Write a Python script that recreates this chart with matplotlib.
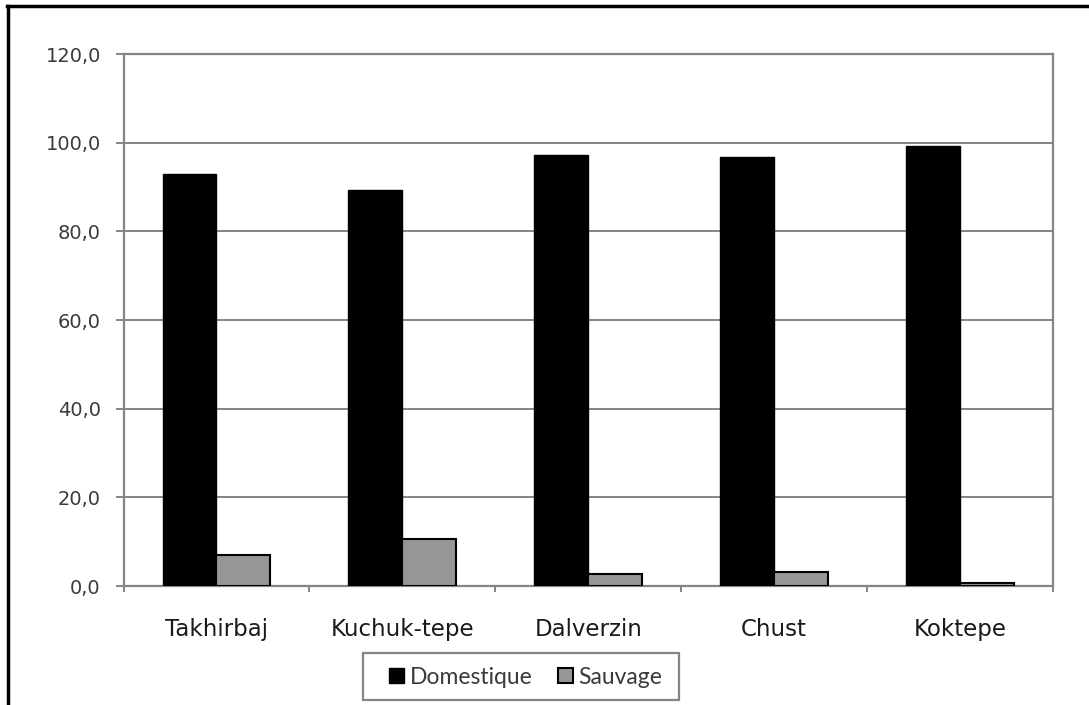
import matplotlib
matplotlib.use("Agg")
import matplotlib.pyplot as plt
import numpy as np
from matplotlib.lines import Line2D
from matplotlib.patches import Rectangle

categories = ["Takhirbaj", "Kuchuk-tepe", "Dalverzin", "Chust", "Koktepe"]
domestique = [93.0, 89.4, 97.3, 96.8, 99.3]
sauvage = [7.0, 10.6, 2.7, 3.2, 0.7]
yticks = [0, 20, 40, 60, 80, 100, 120]
ytick_labels = ["0,0", "20,0", "40,0", "60,0", "80,0", "100,0", "120,0"]

W, H = 1089, 705
fig = plt.figure(figsize=(W/100, H/100), dpi=100)
fig.patch.set_facecolor("white")
ax = fig.add_axes([123.5/W, 1-586/H, (1053-123.5)/W, (586-54)/H])

x = np.arange(len(categories))
w = 0.29
b1 = ax.bar(x - w/2, domestique, w, color="black", edgecolor="black", linewidth=1.0,
            label="Domestique", zorder=3)
b2 = ax.bar(x + w/2, sauvage, w, color="#969696", edgecolor="black", linewidth=1.5,
            label="Sauvage", zorder=3)

ax.set_xlim(-0.5, len(categories) - 0.5)
ax.set_ylim(0, 120)
ax.set_yticks(yticks)
ax.set_yticklabels(ytick_labels, fontsize=14, color="#3a3a3a", family="DejaVu Sans")
ax.yaxis.grid(True, color="#858585", linewidth=1.4, zorder=0)
ax.set_axisbelow(True)

ax.set_xticks(x)
ax.set_xticklabels(categories, fontsize=16.5, family="DejaVu Sans", color="#1a1a1a")
ax.tick_params(axis="x", length=0, pad=23)
ax.set_xticks(np.arange(-0.5, len(categories)), minor=True)
ax.tick_params(axis="x", which="minor", length=4.5, width=1.4, color="#858585", direction="out")
ax.tick_params(axis="y", length=5.8, width=1.4, color="#858585", direction="out", pad=10.5)

for s in ["left", "right", "top", "bottom"]:
    ax.spines[s].set_color("#858585")
    ax.spines[s].set_linewidth(1.6)

leg = fig.legend(handles=[b1, b2], labels=["Domestique", "Sauvage"],
                 loc="center", bbox_to_anchor=(526/W, 1-677/H), ncol=2,
                 frameon=False, prop={"family": "Lato", "size": 16.5},
                 handlelength=0.65, handleheight=0.65,
                 handletextpad=0.25, columnspacing=1.1, borderpad=0, borderaxespad=0)
for t in leg.get_texts():
    t.set_color("#3a3a3a")

# legend frame
fig.add_artist(Rectangle((363/W, 1-700/H), (679-363)/W, (700-653)/H, transform=fig.transFigure,
                         facecolor="none", edgecolor="#858585", linewidth=1.6, zorder=0))

# figure border (left and top)
fig.add_artist(Line2D([7.5/W, 7.5/W], [0, 1-6/H], color="black", linewidth=2.5,
                      transform=fig.transFigure))
fig.add_artist(Line2D([6.5/W, 1], [1-6/H, 1-6/H], color="black", linewidth=2.5,
                      transform=fig.transFigure))

fig.savefig("out.png", dpi=100)
